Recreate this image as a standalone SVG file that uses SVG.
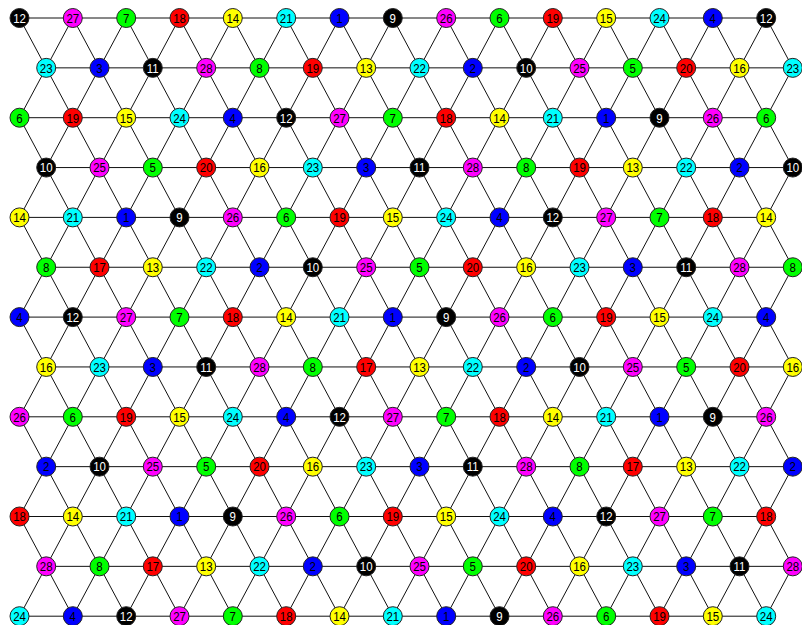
<svg xmlns="http://www.w3.org/2000/svg" width="802" height="625" viewBox="0 0 802 625">
<style>
.e line{stroke:#111;stroke-width:1}
.n circle{stroke:#222;stroke-width:1}
.n text{font-family:"Liberation Sans",Arial,sans-serif;font-size:13.5px;text-anchor:middle;fill:#000;transform:scale(0.85,1)}
.b circle{fill:#0000ff}.g circle{fill:#00ff00}.k circle{fill:#000}.y circle{fill:#ffff00}.r circle{fill:#ff0000}.c circle{fill:#00ffff}.m circle{fill:#ff00ff}
.k text{fill:#fff}
</style>
<rect width="802" height="625" fill="#fff"/>
<g id="connectors" class="e">
<line x1="19.5" y1="18" x2="766.2" y2="18"/>
<line x1="46.2" y1="67.85" x2="792.8" y2="67.85"/>
<line x1="19.5" y1="117.7" x2="766.2" y2="117.7"/>
<line x1="46.2" y1="167.55" x2="792.8" y2="167.55"/>
<line x1="19.5" y1="217.4" x2="766.2" y2="217.4"/>
<line x1="46.2" y1="267.25" x2="792.8" y2="267.25"/>
<line x1="19.5" y1="317.1" x2="766.2" y2="317.1"/>
<line x1="46.2" y1="366.95" x2="792.8" y2="366.95"/>
<line x1="19.5" y1="416.8" x2="766.2" y2="416.8"/>
<line x1="46.2" y1="466.65" x2="792.8" y2="466.65"/>
<line x1="19.5" y1="516.5" x2="766.2" y2="516.5"/>
<line x1="46.2" y1="566.35" x2="792.8" y2="566.35"/>
<line x1="19.5" y1="616.2" x2="766.2" y2="616.2"/>
<line x1="19.5" y1="516.5" x2="72.8" y2="616.2"/>
<line x1="19.5" y1="416.8" x2="126.2" y2="616.2"/>
<line x1="19.5" y1="317.1" x2="179.5" y2="616.2"/>
<line x1="19.5" y1="217.4" x2="232.8" y2="616.2"/>
<line x1="19.5" y1="117.7" x2="286.2" y2="616.2"/>
<line x1="19.5" y1="18" x2="339.5" y2="616.2"/>
<line x1="72.8" y1="18" x2="392.8" y2="616.2"/>
<line x1="126.2" y1="18" x2="446.2" y2="616.2"/>
<line x1="179.5" y1="18" x2="499.5" y2="616.2"/>
<line x1="232.8" y1="18" x2="552.8" y2="616.2"/>
<line x1="286.2" y1="18" x2="606.2" y2="616.2"/>
<line x1="339.5" y1="18" x2="659.5" y2="616.2"/>
<line x1="392.8" y1="18" x2="712.8" y2="616.2"/>
<line x1="446.2" y1="18" x2="766.2" y2="616.2"/>
<line x1="499.5" y1="18" x2="792.8" y2="566.35"/>
<line x1="552.8" y1="18" x2="792.8" y2="466.65"/>
<line x1="606.2" y1="18" x2="792.8" y2="366.95"/>
<line x1="659.5" y1="18" x2="792.8" y2="267.25"/>
<line x1="712.8" y1="18" x2="792.8" y2="167.55"/>
<line x1="766.2" y1="18" x2="792.8" y2="67.85"/>
<line x1="72.8" y1="18" x2="19.5" y2="117.7"/>
<line x1="126.2" y1="18" x2="19.5" y2="217.4"/>
<line x1="179.5" y1="18" x2="19.5" y2="317.1"/>
<line x1="232.8" y1="18" x2="19.5" y2="416.8"/>
<line x1="286.2" y1="18" x2="19.5" y2="516.5"/>
<line x1="339.5" y1="18" x2="19.5" y2="616.2"/>
<line x1="392.8" y1="18" x2="72.8" y2="616.2"/>
<line x1="446.2" y1="18" x2="126.2" y2="616.2"/>
<line x1="499.5" y1="18" x2="179.5" y2="616.2"/>
<line x1="552.8" y1="18" x2="232.8" y2="616.2"/>
<line x1="606.2" y1="18" x2="286.2" y2="616.2"/>
<line x1="659.5" y1="18" x2="339.5" y2="616.2"/>
<line x1="712.8" y1="18" x2="392.8" y2="616.2"/>
<line x1="766.2" y1="18" x2="446.2" y2="616.2"/>
<line x1="792.8" y1="67.85" x2="499.5" y2="616.2"/>
<line x1="792.8" y1="167.55" x2="552.8" y2="616.2"/>
<line x1="792.8" y1="267.25" x2="606.2" y2="616.2"/>
<line x1="792.8" y1="366.95" x2="659.5" y2="616.2"/>
<line x1="792.8" y1="466.65" x2="712.8" y2="616.2"/>
<line x1="792.8" y1="566.35" x2="766.2" y2="616.2"/>
</g>
<g id="nodes">
<g id="n0-0" class="n k" transform="translate(19.5,18)"><circle r="9.5"/><text y="4.8">12</text></g>
<g id="n0-1" class="n m" transform="translate(72.8,18)"><circle r="9.5"/><text y="4.8">27</text></g>
<g id="n0-2" class="n g" transform="translate(126.2,18)"><circle r="9.5"/><text y="4.8">7</text></g>
<g id="n0-3" class="n r" transform="translate(179.5,18)"><circle r="9.5"/><text y="4.8">18</text></g>
<g id="n0-4" class="n y" transform="translate(232.8,18)"><circle r="9.5"/><text y="4.8">14</text></g>
<g id="n0-5" class="n c" transform="translate(286.2,18)"><circle r="9.5"/><text y="4.8">21</text></g>
<g id="n0-6" class="n b" transform="translate(339.5,18)"><circle r="9.5"/><text y="4.8">1</text></g>
<g id="n0-7" class="n k" transform="translate(392.8,18)"><circle r="9.5"/><text y="4.8">9</text></g>
<g id="n0-8" class="n m" transform="translate(446.2,18)"><circle r="9.5"/><text y="4.8">26</text></g>
<g id="n0-9" class="n g" transform="translate(499.5,18)"><circle r="9.5"/><text y="4.8">6</text></g>
<g id="n0-10" class="n r" transform="translate(552.8,18)"><circle r="9.5"/><text y="4.8">19</text></g>
<g id="n0-11" class="n y" transform="translate(606.2,18)"><circle r="9.5"/><text y="4.8">15</text></g>
<g id="n0-12" class="n c" transform="translate(659.5,18)"><circle r="9.5"/><text y="4.8">24</text></g>
<g id="n0-13" class="n b" transform="translate(712.8,18)"><circle r="9.5"/><text y="4.8">4</text></g>
<g id="n0-14" class="n k" transform="translate(766.2,18)"><circle r="9.5"/><text y="4.8">12</text></g>
<g id="n1-0" class="n c" transform="translate(46.2,67.85)"><circle r="9.5"/><text y="4.8">23</text></g>
<g id="n1-1" class="n b" transform="translate(99.5,67.85)"><circle r="9.5"/><text y="4.8">3</text></g>
<g id="n1-2" class="n k" transform="translate(152.8,67.85)"><circle r="9.5"/><text y="4.8">11</text></g>
<g id="n1-3" class="n m" transform="translate(206.2,67.85)"><circle r="9.5"/><text y="4.8">28</text></g>
<g id="n1-4" class="n g" transform="translate(259.5,67.85)"><circle r="9.5"/><text y="4.8">8</text></g>
<g id="n1-5" class="n r" transform="translate(312.8,67.85)"><circle r="9.5"/><text y="4.8">19</text></g>
<g id="n1-6" class="n y" transform="translate(366.2,67.85)"><circle r="9.5"/><text y="4.8">13</text></g>
<g id="n1-7" class="n c" transform="translate(419.5,67.85)"><circle r="9.5"/><text y="4.8">22</text></g>
<g id="n1-8" class="n b" transform="translate(472.8,67.85)"><circle r="9.5"/><text y="4.8">2</text></g>
<g id="n1-9" class="n k" transform="translate(526.2,67.85)"><circle r="9.5"/><text y="4.8">10</text></g>
<g id="n1-10" class="n m" transform="translate(579.5,67.85)"><circle r="9.5"/><text y="4.8">25</text></g>
<g id="n1-11" class="n g" transform="translate(632.8,67.85)"><circle r="9.5"/><text y="4.8">5</text></g>
<g id="n1-12" class="n r" transform="translate(686.2,67.85)"><circle r="9.5"/><text y="4.8">20</text></g>
<g id="n1-13" class="n y" transform="translate(739.5,67.85)"><circle r="9.5"/><text y="4.8">16</text></g>
<g id="n1-14" class="n c" transform="translate(792.8,67.85)"><circle r="9.5"/><text y="4.8">23</text></g>
<g id="n2-0" class="n g" transform="translate(19.5,117.7)"><circle r="9.5"/><text y="4.8">6</text></g>
<g id="n2-1" class="n r" transform="translate(72.8,117.7)"><circle r="9.5"/><text y="4.8">19</text></g>
<g id="n2-2" class="n y" transform="translate(126.2,117.7)"><circle r="9.5"/><text y="4.8">15</text></g>
<g id="n2-3" class="n c" transform="translate(179.5,117.7)"><circle r="9.5"/><text y="4.8">24</text></g>
<g id="n2-4" class="n b" transform="translate(232.8,117.7)"><circle r="9.5"/><text y="4.8">4</text></g>
<g id="n2-5" class="n k" transform="translate(286.2,117.7)"><circle r="9.5"/><text y="4.8">12</text></g>
<g id="n2-6" class="n m" transform="translate(339.5,117.7)"><circle r="9.5"/><text y="4.8">27</text></g>
<g id="n2-7" class="n g" transform="translate(392.8,117.7)"><circle r="9.5"/><text y="4.8">7</text></g>
<g id="n2-8" class="n r" transform="translate(446.2,117.7)"><circle r="9.5"/><text y="4.8">18</text></g>
<g id="n2-9" class="n y" transform="translate(499.5,117.7)"><circle r="9.5"/><text y="4.8">14</text></g>
<g id="n2-10" class="n c" transform="translate(552.8,117.7)"><circle r="9.5"/><text y="4.8">21</text></g>
<g id="n2-11" class="n b" transform="translate(606.2,117.7)"><circle r="9.5"/><text y="4.8">1</text></g>
<g id="n2-12" class="n k" transform="translate(659.5,117.7)"><circle r="9.5"/><text y="4.8">9</text></g>
<g id="n2-13" class="n m" transform="translate(712.8,117.7)"><circle r="9.5"/><text y="4.8">26</text></g>
<g id="n2-14" class="n g" transform="translate(766.2,117.7)"><circle r="9.5"/><text y="4.8">6</text></g>
<g id="n3-0" class="n k" transform="translate(46.2,167.55)"><circle r="9.5"/><text y="4.8">10</text></g>
<g id="n3-1" class="n m" transform="translate(99.5,167.55)"><circle r="9.5"/><text y="4.8">25</text></g>
<g id="n3-2" class="n g" transform="translate(152.8,167.55)"><circle r="9.5"/><text y="4.8">5</text></g>
<g id="n3-3" class="n r" transform="translate(206.2,167.55)"><circle r="9.5"/><text y="4.8">20</text></g>
<g id="n3-4" class="n y" transform="translate(259.5,167.55)"><circle r="9.5"/><text y="4.8">16</text></g>
<g id="n3-5" class="n c" transform="translate(312.8,167.55)"><circle r="9.5"/><text y="4.8">23</text></g>
<g id="n3-6" class="n b" transform="translate(366.2,167.55)"><circle r="9.5"/><text y="4.8">3</text></g>
<g id="n3-7" class="n k" transform="translate(419.5,167.55)"><circle r="9.5"/><text y="4.8">11</text></g>
<g id="n3-8" class="n m" transform="translate(472.8,167.55)"><circle r="9.5"/><text y="4.8">28</text></g>
<g id="n3-9" class="n g" transform="translate(526.2,167.55)"><circle r="9.5"/><text y="4.8">8</text></g>
<g id="n3-10" class="n r" transform="translate(579.5,167.55)"><circle r="9.5"/><text y="4.8">19</text></g>
<g id="n3-11" class="n y" transform="translate(632.8,167.55)"><circle r="9.5"/><text y="4.8">13</text></g>
<g id="n3-12" class="n c" transform="translate(686.2,167.55)"><circle r="9.5"/><text y="4.8">22</text></g>
<g id="n3-13" class="n b" transform="translate(739.5,167.55)"><circle r="9.5"/><text y="4.8">2</text></g>
<g id="n3-14" class="n k" transform="translate(792.8,167.55)"><circle r="9.5"/><text y="4.8">10</text></g>
<g id="n4-0" class="n y" transform="translate(19.5,217.4)"><circle r="9.5"/><text y="4.8">14</text></g>
<g id="n4-1" class="n c" transform="translate(72.8,217.4)"><circle r="9.5"/><text y="4.8">21</text></g>
<g id="n4-2" class="n b" transform="translate(126.2,217.4)"><circle r="9.5"/><text y="4.8">1</text></g>
<g id="n4-3" class="n k" transform="translate(179.5,217.4)"><circle r="9.5"/><text y="4.8">9</text></g>
<g id="n4-4" class="n m" transform="translate(232.8,217.4)"><circle r="9.5"/><text y="4.8">26</text></g>
<g id="n4-5" class="n g" transform="translate(286.2,217.4)"><circle r="9.5"/><text y="4.8">6</text></g>
<g id="n4-6" class="n r" transform="translate(339.5,217.4)"><circle r="9.5"/><text y="4.8">19</text></g>
<g id="n4-7" class="n y" transform="translate(392.8,217.4)"><circle r="9.5"/><text y="4.8">15</text></g>
<g id="n4-8" class="n c" transform="translate(446.2,217.4)"><circle r="9.5"/><text y="4.8">24</text></g>
<g id="n4-9" class="n b" transform="translate(499.5,217.4)"><circle r="9.5"/><text y="4.8">4</text></g>
<g id="n4-10" class="n k" transform="translate(552.8,217.4)"><circle r="9.5"/><text y="4.8">12</text></g>
<g id="n4-11" class="n m" transform="translate(606.2,217.4)"><circle r="9.5"/><text y="4.8">27</text></g>
<g id="n4-12" class="n g" transform="translate(659.5,217.4)"><circle r="9.5"/><text y="4.8">7</text></g>
<g id="n4-13" class="n r" transform="translate(712.8,217.4)"><circle r="9.5"/><text y="4.8">18</text></g>
<g id="n4-14" class="n y" transform="translate(766.2,217.4)"><circle r="9.5"/><text y="4.8">14</text></g>
<g id="n5-0" class="n g" transform="translate(46.2,267.25)"><circle r="9.5"/><text y="4.8">8</text></g>
<g id="n5-1" class="n r" transform="translate(99.5,267.25)"><circle r="9.5"/><text y="4.8">17</text></g>
<g id="n5-2" class="n y" transform="translate(152.8,267.25)"><circle r="9.5"/><text y="4.8">13</text></g>
<g id="n5-3" class="n c" transform="translate(206.2,267.25)"><circle r="9.5"/><text y="4.8">22</text></g>
<g id="n5-4" class="n b" transform="translate(259.5,267.25)"><circle r="9.5"/><text y="4.8">2</text></g>
<g id="n5-5" class="n k" transform="translate(312.8,267.25)"><circle r="9.5"/><text y="4.8">10</text></g>
<g id="n5-6" class="n m" transform="translate(366.2,267.25)"><circle r="9.5"/><text y="4.8">25</text></g>
<g id="n5-7" class="n g" transform="translate(419.5,267.25)"><circle r="9.5"/><text y="4.8">5</text></g>
<g id="n5-8" class="n r" transform="translate(472.8,267.25)"><circle r="9.5"/><text y="4.8">20</text></g>
<g id="n5-9" class="n y" transform="translate(526.2,267.25)"><circle r="9.5"/><text y="4.8">16</text></g>
<g id="n5-10" class="n c" transform="translate(579.5,267.25)"><circle r="9.5"/><text y="4.8">23</text></g>
<g id="n5-11" class="n b" transform="translate(632.8,267.25)"><circle r="9.5"/><text y="4.8">3</text></g>
<g id="n5-12" class="n k" transform="translate(686.2,267.25)"><circle r="9.5"/><text y="4.8">11</text></g>
<g id="n5-13" class="n m" transform="translate(739.5,267.25)"><circle r="9.5"/><text y="4.8">28</text></g>
<g id="n5-14" class="n g" transform="translate(792.8,267.25)"><circle r="9.5"/><text y="4.8">8</text></g>
<g id="n6-0" class="n b" transform="translate(19.5,317.1)"><circle r="9.5"/><text y="4.8">4</text></g>
<g id="n6-1" class="n k" transform="translate(72.8,317.1)"><circle r="9.5"/><text y="4.8">12</text></g>
<g id="n6-2" class="n m" transform="translate(126.2,317.1)"><circle r="9.5"/><text y="4.8">27</text></g>
<g id="n6-3" class="n g" transform="translate(179.5,317.1)"><circle r="9.5"/><text y="4.8">7</text></g>
<g id="n6-4" class="n r" transform="translate(232.8,317.1)"><circle r="9.5"/><text y="4.8">18</text></g>
<g id="n6-5" class="n y" transform="translate(286.2,317.1)"><circle r="9.5"/><text y="4.8">14</text></g>
<g id="n6-6" class="n c" transform="translate(339.5,317.1)"><circle r="9.5"/><text y="4.8">21</text></g>
<g id="n6-7" class="n b" transform="translate(392.8,317.1)"><circle r="9.5"/><text y="4.8">1</text></g>
<g id="n6-8" class="n k" transform="translate(446.2,317.1)"><circle r="9.5"/><text y="4.8">9</text></g>
<g id="n6-9" class="n m" transform="translate(499.5,317.1)"><circle r="9.5"/><text y="4.8">26</text></g>
<g id="n6-10" class="n g" transform="translate(552.8,317.1)"><circle r="9.5"/><text y="4.8">6</text></g>
<g id="n6-11" class="n r" transform="translate(606.2,317.1)"><circle r="9.5"/><text y="4.8">19</text></g>
<g id="n6-12" class="n y" transform="translate(659.5,317.1)"><circle r="9.5"/><text y="4.8">15</text></g>
<g id="n6-13" class="n c" transform="translate(712.8,317.1)"><circle r="9.5"/><text y="4.8">24</text></g>
<g id="n6-14" class="n b" transform="translate(766.2,317.1)"><circle r="9.5"/><text y="4.8">4</text></g>
<g id="n7-0" class="n y" transform="translate(46.2,366.95)"><circle r="9.5"/><text y="4.8">16</text></g>
<g id="n7-1" class="n c" transform="translate(99.5,366.95)"><circle r="9.5"/><text y="4.8">23</text></g>
<g id="n7-2" class="n b" transform="translate(152.8,366.95)"><circle r="9.5"/><text y="4.8">3</text></g>
<g id="n7-3" class="n k" transform="translate(206.2,366.95)"><circle r="9.5"/><text y="4.8">11</text></g>
<g id="n7-4" class="n m" transform="translate(259.5,366.95)"><circle r="9.5"/><text y="4.8">28</text></g>
<g id="n7-5" class="n g" transform="translate(312.8,366.95)"><circle r="9.5"/><text y="4.8">8</text></g>
<g id="n7-6" class="n r" transform="translate(366.2,366.95)"><circle r="9.5"/><text y="4.8">17</text></g>
<g id="n7-7" class="n y" transform="translate(419.5,366.95)"><circle r="9.5"/><text y="4.8">13</text></g>
<g id="n7-8" class="n c" transform="translate(472.8,366.95)"><circle r="9.5"/><text y="4.8">22</text></g>
<g id="n7-9" class="n b" transform="translate(526.2,366.95)"><circle r="9.5"/><text y="4.8">2</text></g>
<g id="n7-10" class="n k" transform="translate(579.5,366.95)"><circle r="9.5"/><text y="4.8">10</text></g>
<g id="n7-11" class="n m" transform="translate(632.8,366.95)"><circle r="9.5"/><text y="4.8">25</text></g>
<g id="n7-12" class="n g" transform="translate(686.2,366.95)"><circle r="9.5"/><text y="4.8">5</text></g>
<g id="n7-13" class="n r" transform="translate(739.5,366.95)"><circle r="9.5"/><text y="4.8">20</text></g>
<g id="n7-14" class="n y" transform="translate(792.8,366.95)"><circle r="9.5"/><text y="4.8">16</text></g>
<g id="n8-0" class="n m" transform="translate(19.5,416.8)"><circle r="9.5"/><text y="4.8">26</text></g>
<g id="n8-1" class="n g" transform="translate(72.8,416.8)"><circle r="9.5"/><text y="4.8">6</text></g>
<g id="n8-2" class="n r" transform="translate(126.2,416.8)"><circle r="9.5"/><text y="4.8">19</text></g>
<g id="n8-3" class="n y" transform="translate(179.5,416.8)"><circle r="9.5"/><text y="4.8">15</text></g>
<g id="n8-4" class="n c" transform="translate(232.8,416.8)"><circle r="9.5"/><text y="4.8">24</text></g>
<g id="n8-5" class="n b" transform="translate(286.2,416.8)"><circle r="9.5"/><text y="4.8">4</text></g>
<g id="n8-6" class="n k" transform="translate(339.5,416.8)"><circle r="9.5"/><text y="4.8">12</text></g>
<g id="n8-7" class="n m" transform="translate(392.8,416.8)"><circle r="9.5"/><text y="4.8">27</text></g>
<g id="n8-8" class="n g" transform="translate(446.2,416.8)"><circle r="9.5"/><text y="4.8">7</text></g>
<g id="n8-9" class="n r" transform="translate(499.5,416.8)"><circle r="9.5"/><text y="4.8">18</text></g>
<g id="n8-10" class="n y" transform="translate(552.8,416.8)"><circle r="9.5"/><text y="4.8">14</text></g>
<g id="n8-11" class="n c" transform="translate(606.2,416.8)"><circle r="9.5"/><text y="4.8">21</text></g>
<g id="n8-12" class="n b" transform="translate(659.5,416.8)"><circle r="9.5"/><text y="4.8">1</text></g>
<g id="n8-13" class="n k" transform="translate(712.8,416.8)"><circle r="9.5"/><text y="4.8">9</text></g>
<g id="n8-14" class="n m" transform="translate(766.2,416.8)"><circle r="9.5"/><text y="4.8">26</text></g>
<g id="n9-0" class="n b" transform="translate(46.2,466.65)"><circle r="9.5"/><text y="4.8">2</text></g>
<g id="n9-1" class="n k" transform="translate(99.5,466.65)"><circle r="9.5"/><text y="4.8">10</text></g>
<g id="n9-2" class="n m" transform="translate(152.8,466.65)"><circle r="9.5"/><text y="4.8">25</text></g>
<g id="n9-3" class="n g" transform="translate(206.2,466.65)"><circle r="9.5"/><text y="4.8">5</text></g>
<g id="n9-4" class="n r" transform="translate(259.5,466.65)"><circle r="9.5"/><text y="4.8">20</text></g>
<g id="n9-5" class="n y" transform="translate(312.8,466.65)"><circle r="9.5"/><text y="4.8">16</text></g>
<g id="n9-6" class="n c" transform="translate(366.2,466.65)"><circle r="9.5"/><text y="4.8">23</text></g>
<g id="n9-7" class="n b" transform="translate(419.5,466.65)"><circle r="9.5"/><text y="4.8">3</text></g>
<g id="n9-8" class="n k" transform="translate(472.8,466.65)"><circle r="9.5"/><text y="4.8">11</text></g>
<g id="n9-9" class="n m" transform="translate(526.2,466.65)"><circle r="9.5"/><text y="4.8">28</text></g>
<g id="n9-10" class="n g" transform="translate(579.5,466.65)"><circle r="9.5"/><text y="4.8">8</text></g>
<g id="n9-11" class="n r" transform="translate(632.8,466.65)"><circle r="9.5"/><text y="4.8">17</text></g>
<g id="n9-12" class="n y" transform="translate(686.2,466.65)"><circle r="9.5"/><text y="4.8">13</text></g>
<g id="n9-13" class="n c" transform="translate(739.5,466.65)"><circle r="9.5"/><text y="4.8">22</text></g>
<g id="n9-14" class="n b" transform="translate(792.8,466.65)"><circle r="9.5"/><text y="4.8">2</text></g>
<g id="n10-0" class="n r" transform="translate(19.5,516.5)"><circle r="9.5"/><text y="4.8">18</text></g>
<g id="n10-1" class="n y" transform="translate(72.8,516.5)"><circle r="9.5"/><text y="4.8">14</text></g>
<g id="n10-2" class="n c" transform="translate(126.2,516.5)"><circle r="9.5"/><text y="4.8">21</text></g>
<g id="n10-3" class="n b" transform="translate(179.5,516.5)"><circle r="9.5"/><text y="4.8">1</text></g>
<g id="n10-4" class="n k" transform="translate(232.8,516.5)"><circle r="9.5"/><text y="4.8">9</text></g>
<g id="n10-5" class="n m" transform="translate(286.2,516.5)"><circle r="9.5"/><text y="4.8">26</text></g>
<g id="n10-6" class="n g" transform="translate(339.5,516.5)"><circle r="9.5"/><text y="4.8">6</text></g>
<g id="n10-7" class="n r" transform="translate(392.8,516.5)"><circle r="9.5"/><text y="4.8">19</text></g>
<g id="n10-8" class="n y" transform="translate(446.2,516.5)"><circle r="9.5"/><text y="4.8">15</text></g>
<g id="n10-9" class="n c" transform="translate(499.5,516.5)"><circle r="9.5"/><text y="4.8">24</text></g>
<g id="n10-10" class="n b" transform="translate(552.8,516.5)"><circle r="9.5"/><text y="4.8">4</text></g>
<g id="n10-11" class="n k" transform="translate(606.2,516.5)"><circle r="9.5"/><text y="4.8">12</text></g>
<g id="n10-12" class="n m" transform="translate(659.5,516.5)"><circle r="9.5"/><text y="4.8">27</text></g>
<g id="n10-13" class="n g" transform="translate(712.8,516.5)"><circle r="9.5"/><text y="4.8">7</text></g>
<g id="n10-14" class="n r" transform="translate(766.2,516.5)"><circle r="9.5"/><text y="4.8">18</text></g>
<g id="n11-0" class="n m" transform="translate(46.2,566.35)"><circle r="9.5"/><text y="4.8">28</text></g>
<g id="n11-1" class="n g" transform="translate(99.5,566.35)"><circle r="9.5"/><text y="4.8">8</text></g>
<g id="n11-2" class="n r" transform="translate(152.8,566.35)"><circle r="9.5"/><text y="4.8">17</text></g>
<g id="n11-3" class="n y" transform="translate(206.2,566.35)"><circle r="9.5"/><text y="4.8">13</text></g>
<g id="n11-4" class="n c" transform="translate(259.5,566.35)"><circle r="9.5"/><text y="4.8">22</text></g>
<g id="n11-5" class="n b" transform="translate(312.8,566.35)"><circle r="9.5"/><text y="4.8">2</text></g>
<g id="n11-6" class="n k" transform="translate(366.2,566.35)"><circle r="9.5"/><text y="4.8">10</text></g>
<g id="n11-7" class="n m" transform="translate(419.5,566.35)"><circle r="9.5"/><text y="4.8">25</text></g>
<g id="n11-8" class="n g" transform="translate(472.8,566.35)"><circle r="9.5"/><text y="4.8">5</text></g>
<g id="n11-9" class="n r" transform="translate(526.2,566.35)"><circle r="9.5"/><text y="4.8">20</text></g>
<g id="n11-10" class="n y" transform="translate(579.5,566.35)"><circle r="9.5"/><text y="4.8">16</text></g>
<g id="n11-11" class="n c" transform="translate(632.8,566.35)"><circle r="9.5"/><text y="4.8">23</text></g>
<g id="n11-12" class="n b" transform="translate(686.2,566.35)"><circle r="9.5"/><text y="4.8">3</text></g>
<g id="n11-13" class="n k" transform="translate(739.5,566.35)"><circle r="9.5"/><text y="4.8">11</text></g>
<g id="n11-14" class="n m" transform="translate(792.8,566.35)"><circle r="9.5"/><text y="4.8">28</text></g>
<g id="n12-0" class="n c" transform="translate(19.5,616.2)"><circle r="9.5"/><text y="4.8">24</text></g>
<g id="n12-1" class="n b" transform="translate(72.8,616.2)"><circle r="9.5"/><text y="4.8">4</text></g>
<g id="n12-2" class="n k" transform="translate(126.2,616.2)"><circle r="9.5"/><text y="4.8">12</text></g>
<g id="n12-3" class="n m" transform="translate(179.5,616.2)"><circle r="9.5"/><text y="4.8">27</text></g>
<g id="n12-4" class="n g" transform="translate(232.8,616.2)"><circle r="9.5"/><text y="4.8">7</text></g>
<g id="n12-5" class="n r" transform="translate(286.2,616.2)"><circle r="9.5"/><text y="4.8">18</text></g>
<g id="n12-6" class="n y" transform="translate(339.5,616.2)"><circle r="9.5"/><text y="4.8">14</text></g>
<g id="n12-7" class="n c" transform="translate(392.8,616.2)"><circle r="9.5"/><text y="4.8">21</text></g>
<g id="n12-8" class="n b" transform="translate(446.2,616.2)"><circle r="9.5"/><text y="4.8">1</text></g>
<g id="n12-9" class="n k" transform="translate(499.5,616.2)"><circle r="9.5"/><text y="4.8">9</text></g>
<g id="n12-10" class="n m" transform="translate(552.8,616.2)"><circle r="9.5"/><text y="4.8">26</text></g>
<g id="n12-11" class="n g" transform="translate(606.2,616.2)"><circle r="9.5"/><text y="4.8">6</text></g>
<g id="n12-12" class="n r" transform="translate(659.5,616.2)"><circle r="9.5"/><text y="4.8">19</text></g>
<g id="n12-13" class="n y" transform="translate(712.8,616.2)"><circle r="9.5"/><text y="4.8">15</text></g>
<g id="n12-14" class="n c" transform="translate(766.2,616.2)"><circle r="9.5"/><text y="4.8">24</text></g>
</g>
</svg>
